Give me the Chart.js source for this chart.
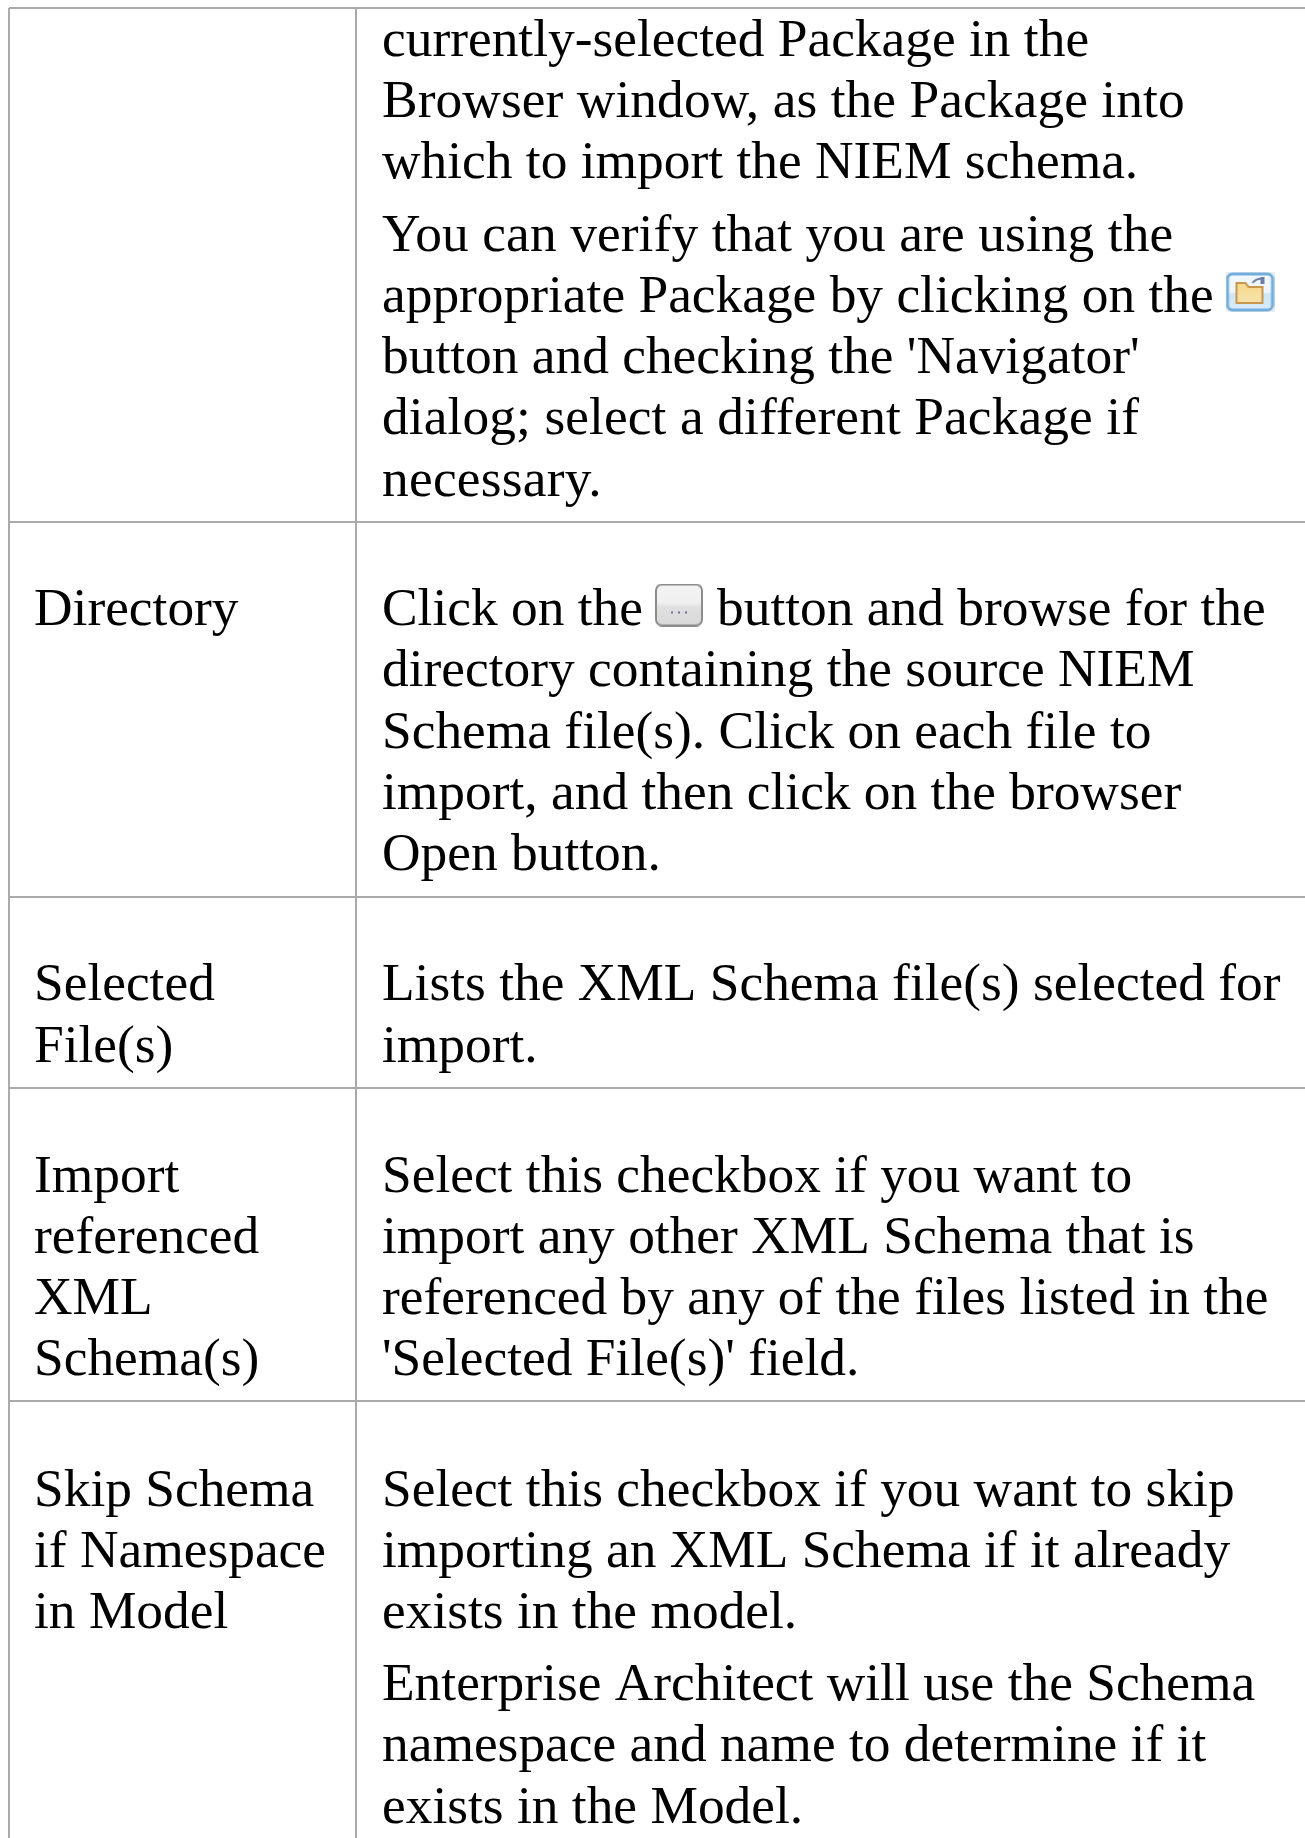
<!DOCTYPE html>
<html>
<head>
<meta charset="utf-8">
<title>NIEM import options</title>
<script src="https://cdn.jsdelivr.net/npm/chart.js@4"></script>
<style>
  html, body { margin: 0; padding: 0; background: #fff; }
  canvas { display: block; }
</style>
</head>
<body>
<canvas id="tableChart" width="1305" height="1838"></canvas>
<script>
    // Text of the two columns
    const nameLines = ['Directory', 'Selected', 'File(s)', 'Import', 'referenced', 'XML', 'Schema(s)', 'Skip Schema', 'if Namespace', 'in Model'];
    const nameBaselines = [625, 1000, 1062, 1192, 1253, 1314, 1375, 1506, 1567, 1628];

    const detailLines = [
        'currently-selected Package in the',
        'Browser window, as the Package into',
        'which to import the NIEM schema.',
        'You can verify that you are using the',
        'appropriate Package by clicking on the',
        "button and checking the 'Navigator'",
        'dialog; select a different Package if',
        'necessary.',
        'Click on the',
        'directory containing the source NIEM',
        'Schema file(s). Click on each file to',
        'import, and then click on the browser',
        'Open button.',
        'Lists the XML Schema file(s) selected for',
        'import.',
        'Select this checkbox if you want to',
        'import any other XML Schema that is',
        'referenced by any of the files listed in the',
        "'Selected File(s)' field.",
        'Select this checkbox if you want to skip',
        'importing an XML Schema if it already',
        'exists in the model.',
        'Enterprise Architect will use the Schema',
        'namespace and name to determine if it',
        'exists in the Model.',
    ];
    const detailBaselines = [56, 117, 178, 251, 312, 373, 434, 496, 625, 686, 748, 809, 870, 1000, 1062, 1192, 1253, 1314, 1375, 1506, 1567, 1628, 1700, 1761, 1823];
    // The lines that run a little wider in the original, extra px per line
    const detailStretch = { 1: 2.5, 3: 3.5, 6: 3.5, 7: 2.5 };

    // Text that follows the button icon on the same line
    const afterButtonText = 'button and browse for the';
    const afterButtonBaseline = 625;

    // Table rules
    const rowRules = [8, 522, 897, 1088, 1401];
    const columnRules = [9, 356];

    // Icons sitting in the text
    const folderIcon = { x: 1250, y: 292 };
    const buttonIcon = { x: 679, y: 605 };

    const nameColumnX = 34;
    const detailColumnX = 382;
    const afterButtonX = 717;
    const pageWidth = 1305;
    const pageHeight = 1838;
    const ruleColor = '#aaaaaa';

    function makeFolderIcon() {
        const c = document.createElement('canvas');
        c.width = 49; c.height = 40;
        const g = c.getContext('2d');
        g.fillStyle = '#e8eef2';
        g.fillRect(0, 0, 49, 40);
        const back = g.createLinearGradient(0, 0, 0, 40);
        back.addColorStop(0, '#f2f8fc');
        back.addColorStop(0.5, '#eef6fb');
        back.addColorStop(0.55, '#cfe6f7');
        back.addColorStop(1, '#d8ecfa');
        g.fillStyle = back;
        g.strokeStyle = '#72aedb';
        g.lineWidth = 3;
        g.beginPath();
        g.roundRect(2, 2, 45, 36, 5);
        g.fill();
        g.stroke();
        const body = g.createLinearGradient(0, 10, 0, 31);
        body.addColorStop(0, '#f8d98a');
        body.addColorStop(1, '#f6e2ac');
        g.fillStyle = body;
        g.strokeStyle = '#c8964c';
        g.lineWidth = 2;
        g.beginPath();
        g.moveTo(11, 31); g.lineTo(11, 11); g.lineTo(20, 11); g.lineTo(23, 15); g.lineTo(37, 15); g.lineTo(37, 31);
        g.closePath();
        g.fill();
        g.stroke();
        g.strokeStyle = '#6f7ea6';
        g.beginPath();
        g.moveTo(27, 11); g.quadraticCurveTo(31, 6, 37, 7);
        g.stroke();
        g.fillStyle = '#6f7ea6';
        g.fillRect(35, 5, 4, 7);
        return c;
    }

    function makeButtonIcon() {
        const c = document.createElement('canvas');
        c.width = 48; c.height = 43;
        const g = c.getContext('2d');
        const fill = g.createLinearGradient(0, 0, 0, 43);
        fill.addColorStop(0, '#f4f4f4');
        fill.addColorStop(0.45, '#f0f0f0');
        fill.addColorStop(0.55, '#e0e0e0');
        fill.addColorStop(1, '#d8d8d8');
        g.fillStyle = fill;
        g.strokeStyle = '#8c8c8c';
        g.lineWidth = 2;
        g.beginPath();
        g.roundRect(1, 1, 46, 41, 6);
        g.fill();
        g.stroke();
        g.fillStyle = '#7a6a9a';
        [17, 24, 31].forEach(x => g.fillRect(x - 1, 28, 2, 2));
        return c;
    }

    // Writes the text lines on the canvas through the chart's scales
    const textPlugin = {
        id: 'tableText',
        afterDatasetsDraw(chart) {
            const { ctx, scales } = chart;
            ctx.save();
            ctx.font = '53.4px "Liberation Serif"';
            ctx.fillStyle = '#000';
            ctx.textBaseline = 'alphabetic';
            nameLines.forEach((t, i) => ctx.fillText(t, scales.x.getPixelForValue(nameColumnX), scales.y.getPixelForValue(nameBaselines[i])));
            detailLines.forEach((t, i) => {
                ctx.letterSpacing = ((detailStretch[i] || 0) / t.length) + 'px';
                ctx.fillText(t, scales.x.getPixelForValue(detailColumnX), scales.y.getPixelForValue(detailBaselines[i]));
            });
            ctx.letterSpacing = '0px';
            ctx.fillText(afterButtonText, scales.x.getPixelForValue(afterButtonX), scales.y.getPixelForValue(afterButtonBaseline));
            ctx.restore();
        }
    };

    const datasets = [];
    rowRules.forEach(y => datasets.push({
        data: [{ x: columnRules[0], y: y }, { x: pageWidth, y: y }],
        borderColor: ruleColor, borderWidth: 2, pointRadius: 0, showLine: true,
    }));
    columnRules.forEach(x => datasets.push({
        data: [{ x: x, y: rowRules[0] }, { x: x, y: pageHeight }],
        borderColor: ruleColor, borderWidth: 2, pointRadius: 0, showLine: true,
    }));
    datasets.push({ data: [folderIcon], pointStyle: makeFolderIcon(), showLine: false });
    datasets.push({ data: [buttonIcon], pointStyle: makeButtonIcon(), showLine: false });

    new Chart(document.getElementById('tableChart').getContext('2d'), {
        type: 'scatter',
        data: { datasets: datasets },
        options: {
            responsive: false,
            animation: false,
            layout: { padding: 0, autoPadding: false },
            plugins: { legend: { display: false }, tooltip: { enabled: false } },
            scales: {
                x: { type: 'linear', min: 0, max: pageWidth, display: false },
                y: { type: 'linear', min: 0, max: pageHeight, reverse: true, display: false },
            },
        },
        plugins: [textPlugin],
    });
</script>
</body>
</html>
